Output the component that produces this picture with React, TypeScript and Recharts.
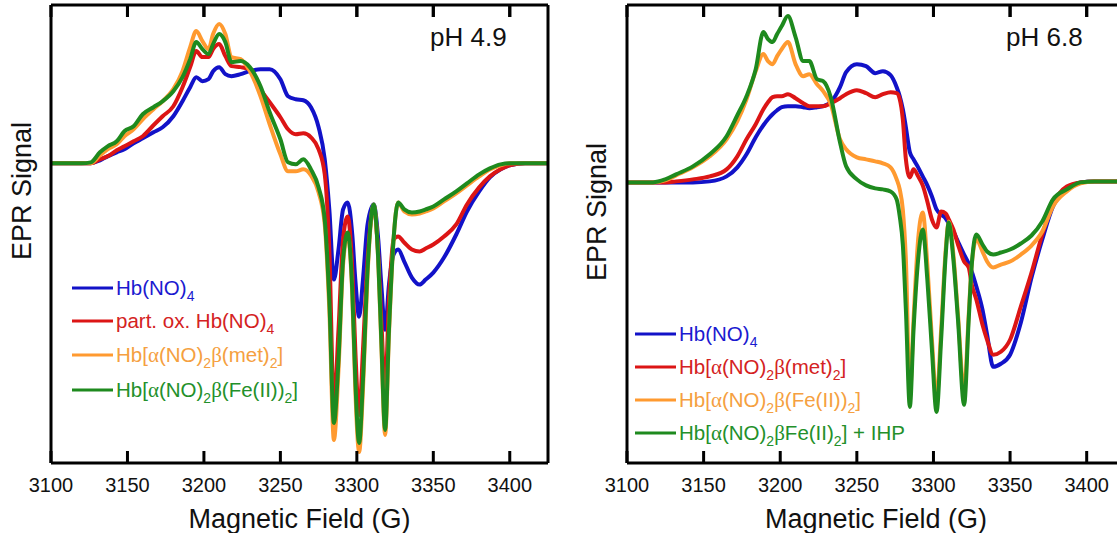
import React from "react";
import { LineChart, Line, XAxis, YAxis, ReferenceLine } from "recharts";

// pH 4.9 panel
const FIELD_PH49 = [
  3100, 3120, 3126, 3132, 3137, 3143, 3148, 3154, 3160, 3167, 3173, 3180, 3186,
  3191, 3195, 3199, 3203, 3206, 3210, 3214, 3218, 3224, 3230, 3237, 3243, 3250,
  3255, 3260, 3265, 3270, 3275, 3279, 3282, 3285, 3288, 3291, 3294, 3297, 3299,
  3301.5, 3304, 3307, 3311, 3314, 3316, 3318.5, 3321, 3324, 3327, 3331, 3336,
  3341, 3345, 3350, 3357, 3365, 3372, 3380, 3387, 3394, 3400, 3410, 3425,
];
const HBNO4_PH49 = [
  0, 0, 0, 3, 7, 11, 14, 20, 25, 31, 36, 47, 62, 76, 86, 82, 84, 92, 96, 89, 87,
  89, 92, 94, 94, 84, 67, 64, 63, 56, 36, 4, -46, -116, -86, -46, -39, -71, -116,
  -153, -116, -61, -41, -76, -121, -166, -121, -91, -86, -98, -114, -121, -116,
  -109, -94, -71, -48, -28, -14, -6, -2, 0, 0,
];
const PARTOX_PH49 = [
  0, 0, 0, 4, 7, 13, 17, 22, 27, 38, 47, 57, 76, 96, 112, 106, 106, 114, 119,
  107, 97, 96, 94, 74, 61, 46, 34, 29, 30, 26, 14, -11, -86, -241, -166, -76,
  -53, -106, -186, -251, -186, -96, -44, -91, -156, -226, -136, -76, -73, -79,
  -86, -88, -85, -81, -73, -61, -41, -24, -13, -6, -2, 0, 0,
];
const MET_PH49 = [
  0, 0, 0, 8, 14, 19, 27, 34, 44, 54, 62, 74, 92, 116, 132, 122, 114, 129, 139,
  129, 106, 104, 92, 67, 39, 9, -8, -8, -6, -12, -29, -61, -146, -276, -206,
  -101, -71, -131, -226, -288, -226, -111, -41, -98, -181, -271, -171, -76, -39,
  -48, -51, -50, -48, -45, -38, -30, -22, -13, -6, -2, 0, 0, 0,
];
const FE_PH49 = [
  0, 0, 1, 11, 17, 22, 32, 37, 49, 56, 62, 72, 86, 104, 121, 114, 109, 119, 129,
  121, 101, 102, 96, 77, 51, 24, 1, -1, 4, -6, -24, -56, -136, -259, -196, -96,
  -69, -126, -216, -279, -216, -106, -41, -96, -176, -266, -166, -76, -39, -46,
  -49, -48, -46, -43, -36, -28, -20, -11, -5, -1, 0, 0, 0,
];

// pH 6.8 panel
const FIELD_PH68 = [
  3100, 3117, 3125, 3132, 3143, 3154, 3165, 3172, 3178, 3184, 3189, 3192, 3195,
  3198, 3201, 3205, 3210, 3215, 3219, 3224, 3228, 3233, 3239, 3243, 3250, 3256,
  3262, 3267, 3272, 3276, 3278, 3280, 3282, 3284.6, 3287, 3290, 3293, 3296,
  3299, 3302, 3305, 3308, 3310, 3313, 3316, 3320, 3323, 3325, 3328, 3332, 3335,
  3339, 3344, 3350, 3357, 3364, 3371, 3378, 3387, 3396, 3405, 3425,
];
const HBNO4_PH68 = [
  0, 0, 0, 0, 0, 1, 6, 15, 28, 45, 57, 63, 68, 72, 75, 76, 76, 75, 74, 75, 76,
  80, 95, 110, 118, 116, 109, 111, 107, 95, 86, 73, 55, 30, 23, 15, 6, -3, -14,
  -27, -32, -36, -41, -49, -59, -72, -81, -89, -104, -127, -152, -184, -181,
  -172, -140, -95, -57, -24, -7, 0, 1, 1,
];
const MET_PH68 = [
  0, 0, 0, 1, 3, 6, 13, 26, 43, 58, 73, 80, 85, 86, 86, 88, 84, 79, 76, 76, 76,
  79, 84, 88, 92, 89, 85, 88, 90, 89, 83, 63, 23, 5, 13, 6, -3, -19, -37, -45,
  -29, -31, -37, -47, -62, -79, -85, -102, -117, -142, -157, -172, -169, -157,
  -124, -90, -52, -22, -4, 0, 1, 1,
];
const FE_PH68 = [
  0, 0, 2, 7, 15, 26, 43, 61, 83, 111, 128, 121, 118, 126, 133, 140, 118, 106,
  108, 98, 91, 78, 43, 33, 25, 23, 21, 19, 15, 3, -7, -27, -77, -212, -137, -57,
  -30, -82, -157, -217, -147, -67, -39, -72, -132, -209, -132, -82, -57, -69,
  -79, -85, -82, -79, -72, -63, -49, -24, -9, -1, 1, 1,
];
const FE_IHP_PH68 = [
  0, 0, 3, 8, 16, 28, 46, 67, 86, 113, 150, 143, 140, 148, 156, 166, 145, 121,
  121, 103, 101, 85, 40, 16, 3, -3, -6, -7, -9, -17, -34, -62, -127, -224, -147,
  -77, -47, -97, -167, -229, -157, -72, -40, -77, -137, -222, -137, -82, -52,
  -62, -69, -72, -70, -67, -61, -53, -39, -17, -7, 0, 1, 1,
];

const X_TICKS = [3100, 3150, 3200, 3250, 3300, 3350, 3400];
const COLORS = ["#1212c8", "#dc1515", "#ff9a30", "#1e8a1e"];
const TEXT_COLORS = ["#1a1ad0", "#d42222", "#f5a040", "#23902a"];

// "_x" = subscript x
const NAMES_PH49 = [
  "Hb(NO)_4",
  "part. ox. Hb(NO)_4",
  "Hb[α(NO)_2β(met)_2]",
  "Hb[α(NO)_2β(Fe(II))_2]",
];
const NAMES_PH68 = [
  "Hb(NO)_4",
  "Hb[α(NO)_2β(met)_2]",
  "Hb[α(NO)_2β(Fe(II))_2]",
  "Hb[α(NO)_2βFe(II)_2] + IHP",
];

const FONT = "'Liberation Sans', Arial, Helvetica, sans-serif";

function richText(s: string) {
  const parts: React.ReactNode[] = [];
  let shift = 0;
  for (let i = 0; i < s.length; i++) {
    const ch = s[i];
    if (ch === "_") {
      const c = s[i + 1];
      i++;
      parts.push(
        <tspan key={i} dy={6 - shift} fontSize={14}>
          {c}
        </tspan>
      );
      shift = 6;
      continue;
    }
    const dy = shift ? -shift : undefined;
    shift = 0;
    if (ch === "α" || ch === "β") {
      parts.push(
        <tspan key={i} dy={dy} fontFamily="'Liberation Serif', serif" fontSize={21}>
          {ch}
        </tspan>
      );
    } else {
      parts.push(
        <tspan key={i} dy={dy}>
          {ch}
        </tspan>
      );
    }
  }
  return parts;
}

function BottomTick(props: any) {
  const { x, y, payload } = props;
  return (
    <g>
      <line x1={x} x2={x} y1={y} y2={y - 12} stroke="#000" strokeWidth={3} />
      <text x={x} y={y + 29} textAnchor="middle" fontSize={20} fontFamily={FONT} fill="#111">
        {payload.value}
      </text>
    </g>
  );
}

interface PanelProps {
  left: number;
  width: number;
  margin: { top: number; right: number; bottom: number; left: number };
  fields: number[];
  series: number[][];
  names: string[];
  yDomain: [number, number];
  ph: string;
  phX: number;
  yLabelX: number;
  yLabelY: number;
  legendX: number;
  legendY: number[];
}

function Panel(p: PanelProps) {
  const data = p.fields.map((f, i) => {
    const row: Record<string, number> = { field: f };
    p.series.forEach((s, k) => (row["s" + k] = s[i]));
    return row;
  });
  const top = p.yDomain[1];
  return (
    <div style={{ position: "absolute", left: p.left, top: 0, width: p.width, height: 533 }}>
      <LineChart width={p.width} height={533} data={data} margin={p.margin}>
        <XAxis
          dataKey="field"
          type="number"
          domain={[3100, 3425]}
          ticks={X_TICKS}
          interval={0}
          allowDataOverflow
          height={70}
          tickSize={0}
          tickMargin={0}
          tickLine={false}
          axisLine={{ stroke: "#000", strokeWidth: 3 }}
          tick={<BottomTick />}
          label={{
            value: "Magnetic Field (G)",
            position: "insideBottom",
            offset: 5,
            fontSize: 27,
            fontFamily: FONT,
            fill: "#111",
          }}
        />
        <XAxis
          xAxisId="top"
          orientation="top"
          dataKey="field"
          type="number"
          domain={[3100, 3425]}
          ticks={X_TICKS}
          interval={0}
          allowDataOverflow
          height={1}
          mirror
          tickSize={12}
          tickLine={{ stroke: "#000", strokeWidth: 3 }}
          tick={{ fill: "none", fontSize: 1 }}
          axisLine={{ stroke: "#000", strokeWidth: 3 }}
        />
        <YAxis
          domain={p.yDomain}
          allowDataOverflow
          width={1}
          tick={false}
          tickLine={false}
          axisLine={{ stroke: "#000", strokeWidth: 3 }}
        />
        <YAxis
          yAxisId="right"
          orientation="right"
          domain={p.yDomain}
          allowDataOverflow
          width={1}
          tick={false}
          tickLine={false}
          axisLine={{ stroke: "#000", strokeWidth: 3 }}
        />
        {X_TICKS.slice(1).map((t) => (
          <ReferenceLine
            key={t}
            ifOverflow="visible"
            segment={[
              { x: t, y: top },
              { x: t, y: top - 12 },
            ]}
            stroke="#000"
            strokeWidth={3}
          />
        ))}
        {p.series.map((_, k) => (
          <Line
            key={k}
            dataKey={"s" + k}
            type="monotone"
            stroke={COLORS[k]}
            strokeWidth={4}
            dot={false}
            isAnimationActive={false}
          />
        ))}
      </LineChart>
      <svg
        width={p.width}
        height={533}
        style={{ position: "absolute", left: 0, top: 0, pointerEvents: "none" }}
      >
        <text
          x={p.yLabelX}
          y={p.yLabelY}
          transform={`rotate(-90, ${p.yLabelX}, ${p.yLabelY})`}
          textAnchor="middle"
          dominantBaseline="central"
          fontSize={27}
          fontFamily={FONT}
          fill="#111"
        >
          EPR Signal
        </text>
        <text x={p.phX} y={46} fontSize={26} fontFamily={FONT} fill="#111">
          {p.ph}
        </text>
        {p.names.map((n, k) => (
          <g key={k}>
            <line
              x1={p.legendX}
              x2={p.legendX + 41}
              y1={p.legendY[k]}
              y2={p.legendY[k]}
              stroke={COLORS[k]}
              strokeWidth={3}
            />
            <text
              x={p.legendX + 44}
              y={p.legendY[k] + 7}
              fontSize={20.5}
              fontFamily={FONT}
              fill={TEXT_COLORS[k]}
            >
              {richText(n)}
            </text>
          </g>
        ))}
      </svg>
    </div>
  );
}

export default function App() {
  return (
    <div
      style={{
        position: "absolute",
        left: 0,
        top: 0,
        width: 1117,
        height: 533,
        overflow: "hidden",
        background: "#fff",
      }}
    >
      <Panel
        left={0}
        width={560}
        margin={{ top: 5, right: 11, bottom: 0, left: 50 }}
        fields={FIELD_PH49}
        series={[HBNO4_PH49, PARTOX_PH49, MET_PH49, FE_PH49]}
        names={NAMES_PH49}
        yDomain={[-299, 158]}
        ph="pH 4.9"
        phX={430}
        yLabelX={22}
        yLabelY={191}
        legendX={72}
        legendY={[288, 321, 355, 390]}
      />
      <Panel
        left={560}
        width={580}
        margin={{ top: 5, right: 14, bottom: 0, left: 66 }}
        fields={FIELD_PH68}
        series={[HBNO4_PH68, MET_PH68, FE_PH68, FE_IHP_PH68]}
        names={NAMES_PH68}
        yDomain={[-280, 177]}
        ph="pH 6.8"
        phX={446}
        yLabelX={37}
        yLabelY={212}
        legendX={75}
        legendY={[334, 367, 400, 433]}
      />
    </div>
  );
}
